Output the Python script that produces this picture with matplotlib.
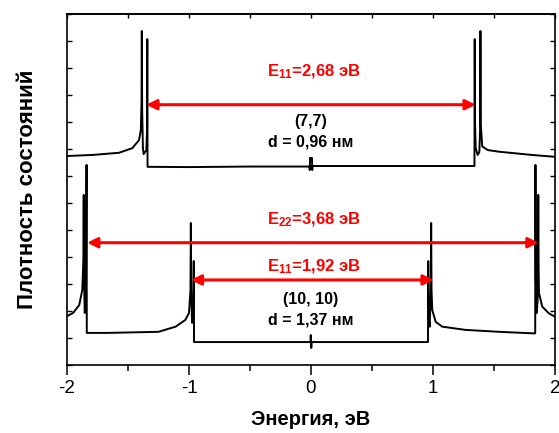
import matplotlib
matplotlib.use('Agg')
import matplotlib.pyplot as plt

plt.rcParams['font.family'] = ['Liberation Sans', 'DejaVu Sans']
plt.rcParams['mathtext.fontset'] = 'custom'
plt.rcParams['mathtext.rm'] = 'Liberation Sans'
plt.rcParams['mathtext.bf'] = 'Liberation Sans:bold'

# density of states, tube (7,7), shifted up
e_77 = [-2.0, -1.79, -1.574, -1.465, -1.41, -1.395, -1.389, -1.387, -1.384, -1.378, -1.372,
        -1.35, -1.344, -1.342, -1.340, -1.0, -0.5, -0.012, -0.010, -0.008, 0.008, 0.010,
        0.012, 0.5, 1.0, 1.340, 1.342, 1.344, 1.35, 1.366, 1.38, 1.386, 1.389, 1.392,
        1.404, 1.45, 1.54, 1.81, 2.0]
dos_77 = [7.74, 7.78, 7.86, 8.03, 8.33, 8.70, 9.81, 12.37, 9.44, 8.04, 7.81,
          7.96, 8.70, 12.07, 7.34, 7.33, 7.35, 7.35, 7.22, 7.67, 7.67, 7.22,
          7.37, 7.37, 7.37, 7.37, 12.07, 9.07, 8.04, 7.78, 7.89, 8.70, 12.37, 8.89,
          8.09, 7.96, 7.90, 7.78, 7.71]

# density of states, tube (10,10)
e_1010 = [-2.0, -1.95, -1.90, -1.875, -1.866, -1.863, -1.860, -1.855, -1.845, -1.840, -1.838,
          -1.66, -1.25, -1.11, -1.03, -1.00, -0.988, -0.985, -0.982, -0.975, -0.965, -0.961,
          -0.959, -0.5, -0.004, -0.002, 0.002, 0.006, 0.5, 0.959, 0.961, 0.965, 0.973,
          0.982, 0.985, 0.988, 0.994, 1.022, 1.076, 1.268, 1.541, 1.835, 1.838, 1.840,
          1.843, 1.850, 1.858, 1.861, 1.863, 1.866, 1.869, 1.896, 1.951, 2.0]
dos_1010 = [1.81, 1.93, 2.22, 2.78, 3.89, 6.30, 3.15, 1.93, 2.22, 7.41, 1.19,
            1.19, 1.23, 1.42, 1.67, 1.93, 2.78, 5.26, 2.78, 1.56, 1.74, 3.85,
            0.85, 0.85, 0.85, 1.11, 0.63, 0.85, 0.85, 0.85, 3.85, 1.74, 1.42,
            2.78, 5.26, 2.78, 2.04, 1.60, 1.42, 1.30, 1.23, 1.17, 1.19, 7.41,
            3.15, 1.93, 2.41, 4.26, 6.30, 3.52, 2.66, 2.16, 1.91, 1.79]

# transitions: (left, right, height)
arrows = [(-1.35, 1.35, 9.64), (-1.835, 1.865, 4.53), (-0.985, 1.005, 3.15)]
arrow_labels = [r'$\mathbf{E_{11}}$=2,68 эВ', r'$\mathbf{E_{22}}$=3,68 эВ', r'$\mathbf{E_{11}}$=1,92 эВ']
arrow_label_y = [10.86, 5.37, 3.64]

tube_labels = ['(7,7)', 'd = 0,96 нм', '(10, 10)', 'd = 1,37 нм']
tube_label_y = [9.01, 8.25, 2.41, 1.67]

fig = plt.figure(figsize=(5.59, 4.33), dpi=100)
ax = fig.add_axes([0.1199, 0.157, 0.8729, 0.8107])

ax.plot(e_77, dos_77, color='black', lw=1.4)
ax.plot(e_1010, dos_1010, color='black', lw=1.4)

for (x0, x1, y), lab, ly in zip(arrows, arrow_labels, arrow_label_y):
    ax.annotate('', xy=(x1, y), xytext=(x0, y),
                arrowprops=dict(arrowstyle='<|-|>', color='red', lw=2.2,
                                mutation_scale=15, shrinkA=0, shrinkB=0))
    ax.text(0.02, ly, lab, color='red', fontsize=12, fontweight='bold',
            ha='center', va='center')

for lab, ly in zip(tube_labels, tube_label_y):
    ax.text(0.0, ly, lab, color='black', fontsize=11.5, fontweight='bold',
            ha='center', va='center')

ax.set_xlim(-2, 2)
ax.set_ylim(0, 13)
ax.set_xticks([-2, -1, 0, 1, 2])
ax.set_xticklabels(['-2', '-1', '0', '1', '2'])
ax.set_xticks([-1.5, -0.5, 0.5, 1.5], minor=True)
ax.tick_params(axis='x', which='major', direction='out', length=7, width=1.1, labelsize=13.5, pad=4)
ax.tick_params(axis='x', which='minor', direction='out', length=4, width=1.1)
ax.set_yticks(range(0, 14))
ax.tick_params(axis='y', which='major', direction='in', length=3.5, width=1.0,
               left=True, right=True, labelleft=False)

top = ax.secondary_xaxis('top')
top.set_xticks([-2, -1.5, -1, -0.5, 0, 0.5, 1, 1.5, 2])
top.tick_params(direction='in', length=3, width=1.0, labeltop=False)

for sp in ax.spines.values():
    sp.set_linewidth(1.2)
top.spines['top'].set_linewidth(1.2)

ax.set_xlabel('Энергия, эВ', fontsize=14.5, fontweight='bold', labelpad=9)
ax.set_ylabel('Плотность состояний', fontsize=16, fontweight='bold', labelpad=21)

fig.savefig('out.png', dpi=100)
